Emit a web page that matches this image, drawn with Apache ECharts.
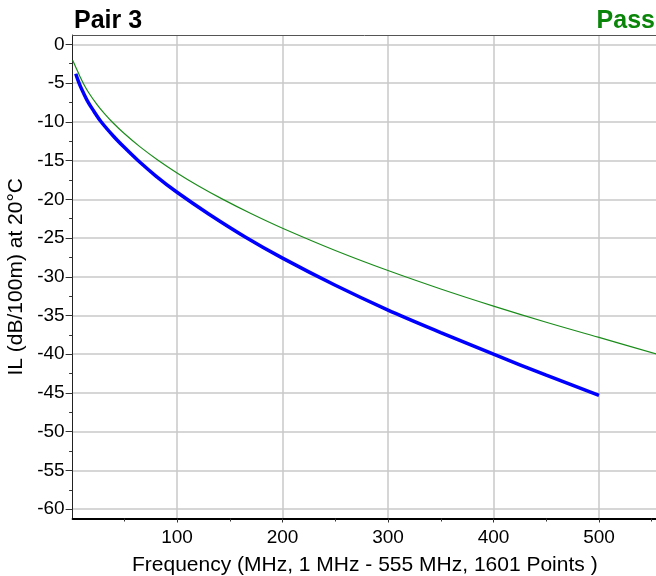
<!DOCTYPE html>
<html>
<head>
<meta charset="utf-8">
<script src="https://cdn.jsdelivr.net/npm/echarts@6/dist/echarts.min.js"></script>
<style>html,body{margin:0;padding:0;background:#fff;}#c{width:656px;height:576px;}</style>
</head>
<body>
<div id="c"></div>
<script>
// Frequency (MHz) and insertion loss (dB/100m)
const limitFreq = [4, 6, 8, 11, 15, 20, 28, 40, 50, 63, 80, 100, 130, 165, 200, 250, 300, 350, 400, 450, 500];
const limitIL   = [-3.8, -4.6, -5.3, -6.2, -7.3, -8.4, -10.0, -11.9, -13.3, -15.0, -17.0, -19.1, -21.9, -24.9, -27.6, -31.1, -34.3, -37.2, -40.0, -42.7, -45.3];
const measFreq  = [1, 3, 5, 7.4, 11, 16, 24, 31, 39, 50, 65, 82, 100, 120, 144, 170, 200, 250, 300, 350, 400, 450, 500, 555];
const measIL    = [-2.05, -2.65, -3.25, -3.98, -5.0, -6.19, -7.75, -8.91, -10.09, -11.52, -13.24, -14.96, -16.6, -18.25, -20.05, -21.84, -23.74, -26.61, -29.2, -31.58, -33.79, -35.87, -37.83, -40.0];
const xTicks      = [100, 200, 300, 400, 500];
const xMinorTicks = [50, 150, 250, 350, 450, 550];
const yTicks      = [0, -5, -10, -15, -20, -25, -30, -35, -40, -45, -50, -55, -60];
const yMinorTicks = [-2.5, -7.5, -12.5, -17.5, -22.5, -27.5, -32.5, -37.5, -42.5, -47.5, -52.5, -57.5];
const titleText = 'Pair 3';
const statusText = 'Pass';
const xName = 'Frequency (MHz, 1 MHz - 555 MHz, 1601 Points )';
const yName = 'IL (dB/100m) at 20°C';

const FONT = 'Liberation Sans, Arial, sans-serif';
const X_MIN = 1, X_MAX = 555, Y_MIN = -61.2, Y_MAX = 1.2;
const zip = (a, b) => a.map((v, i) => [v, b[i]]);
const gridStyle = { color: '#c8c8c8', width: 1.5 };
const gridBox = { left: 72.6, right: -1, top: 35, bottom: 57.5, containLabel: false, outerBoundsMode: 'none' };

const chart = echarts.init(document.getElementById('c'), null, { renderer: 'canvas' });
chart.setOption({
  animation: false,
  backgroundColor: '#fff',
  title: [
    { text: titleText, left: 74, top: 8.5, padding: 0,
      textStyle: { fontFamily: FONT, fontSize: 25, fontWeight: 'bold', color: '#000' } },
    { text: statusText, right: 1, top: 8.5, padding: 0,
      textStyle: { fontFamily: FONT, fontSize: 25, fontWeight: 'bold', color: '#0a850a' } }
  ],
  grid: [Object.assign({}, gridBox), Object.assign({}, gridBox)],
  xAxis: [
    { type: 'value', gridIndex: 0, min: X_MIN, max: X_MAX, position: 'bottom',
      name: xName, nameLocation: 'middle', nameGap: 36,
      nameTextStyle: { fontFamily: FONT, fontSize: 21, color: '#000' },
      axisLine: { show: true, onZero: false, lineStyle: { color: '#000', width: 2 } },
      axisTick: { show: true, customValues: xTicks, length: 4, lineStyle: { color: '#333' } },
      axisLabel: { customValues: xTicks, fontFamily: FONT, fontSize: 19, color: '#000', margin: 10 },
      splitLine: { show: true, lineStyle: gridStyle } },
    { type: 'value', gridIndex: 0, min: X_MIN, max: X_MAX, position: 'top',
      axisLine: { show: true, onZero: false, lineStyle: { color: '#555', width: 1 } },
      axisTick: { show: false }, axisLabel: { show: false }, splitLine: { show: false } },
    { type: 'value', gridIndex: 1, min: X_MIN, max: X_MAX, position: 'bottom',
      axisLine: { show: false, onZero: false },
      axisTick: { show: true, customValues: xMinorTicks, length: 3, lineStyle: { color: '#333' } },
      axisLabel: { show: false }, splitLine: { show: false } }
  ],
  yAxis: [
    { type: 'value', gridIndex: 0, min: Y_MIN, max: Y_MAX, position: 'left',
      name: yName, nameLocation: 'middle', nameGap: 41,
      nameTextStyle: { fontFamily: FONT, fontSize: 21, color: '#000' },
      axisLine: { show: true, onZero: false, lineStyle: { color: '#222', width: 1 } },
      axisTick: { show: true, customValues: yTicks, length: 7, lineStyle: { color: '#333' } },
      axisLabel: { customValues: yTicks, fontFamily: FONT, fontSize: 19, color: '#000', margin: 8 },
      splitLine: { show: true, lineStyle: gridStyle } },
    { type: 'value', gridIndex: 1, min: Y_MIN, max: Y_MAX, position: 'left',
      axisLine: { show: false, onZero: false },
      axisTick: { show: true, customValues: yMinorTicks, length: 3.5, lineStyle: { color: '#333' } },
      axisLabel: { show: false }, splitLine: { show: false } }
  ],
  series: [
    { type: 'line', name: 'Limit', data: zip(limitFreq, limitIL), xAxisIndex: 0, yAxisIndex: 0,
      showSymbol: false, smooth: 0.3, lineStyle: { color: '#0000ff', width: 3.5 }, z: 3 },
    { type: 'line', name: 'Measured', data: zip(measFreq, measIL), xAxisIndex: 0, yAxisIndex: 0,
      showSymbol: false, smooth: 0.4, lineStyle: { color: '#1a8c1a', width: 1.2 }, z: 4 }
  ]
});
</script>
</body>
</html>
